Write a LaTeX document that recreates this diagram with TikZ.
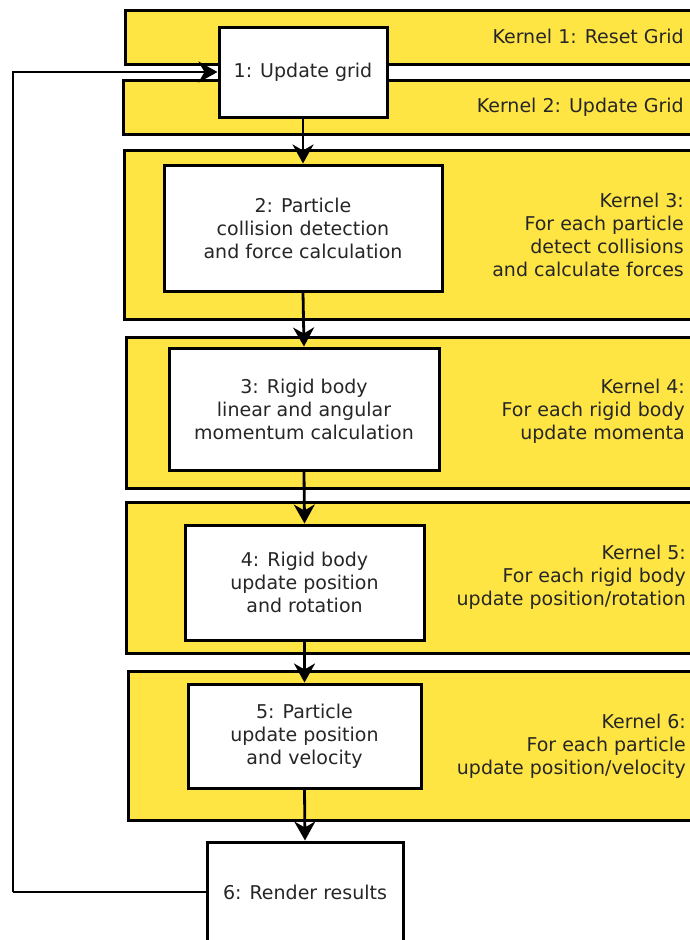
\documentclass[tikz,border=0pt]{standalone}
\usepackage{fontspec}
\setmainfont{DejaVu Sans}
\usetikzlibrary{arrows.meta}
\definecolor{bandyellow}{RGB}{255,229,68}
\definecolor{ink}{RGB}{38,38,38}
\tikzset{
  band/.style={draw=black, line width=3pt, fill=bandyellow},
  stage/.style={draw=black, line width=3pt, fill=white, text=ink,
    align=center, font=\fontsize{19}{23}\selectfont, inner sep=0pt},
  kernel/.style={anchor=east, align=right, text=ink,
    font=\fontsize{19}{23}\selectfont, inner sep=0pt},
  flow/.style={line width=2.8pt, -{Stealth[length=19pt,width=21pt,inset=6pt]}},
  loopline/.style={line width=2.8pt}
}
\begin{document}
\begin{tikzpicture}[x=1pt,y=-1pt]
\useasboundingbox (0,0) rectangle (690,940);
\clip (0,0) rectangle (690,940);
% kernel bands
\draw[band] (125,10) rectangle (705,64);
\draw[band] (123,80) rectangle (705,134);
\draw[band] (124,150) rectangle (705,319);
\draw[band] (126,337) rectangle (705,488);
\draw[band] (126,502) rectangle (705,653);
\draw[band] (128,671) rectangle (705,820);
% kernel labels
\node[kernel] (k1) at (684,36) {Kernel 1: Reset Grid};
\node[kernel] (k2) at (684,107) {Kernel 2: Update Grid};
\node[kernel] (k3) at (684,235) {Kernel 3:\\For each particle\\detect collisions\\and calculate forces};
\node[kernel] (k4) at (685,411) {Kernel 4:\\For each rigid body\\update momenta};
\node[kernel] (k5) at (686,577) {Kernel 5:\\For each rigid body\\update position/rotation};
\node[kernel] (k6) at (686,746) {Kernel 6:\\For each particle\\update position/velocity};
% pipeline stages
\node[stage, minimum width=168pt, minimum height=90pt] (s1) at (303,72) {1: Update grid};
\node[stage, minimum width=278pt, minimum height=126pt] (s2) at (303,228) {2: Particle\\collision detection\\and force calculation};
\node[stage, minimum width=270pt, minimum height=122pt] (s3) at (304,409) {3: Rigid body\\linear and angular\\momentum calculation};
\node[stage, minimum width=239pt, minimum height=115pt] (s4) at (304.5,582.5) {4: Rigid body\\update position\\and rotation};
\node[stage, minimum width=233pt, minimum height=104pt] (s5) at (304.5,736) {5: Particle\\update position\\and velocity};
\node[stage, minimum width=196pt, minimum height=100pt] (s6) at (305,892) {6: Render results};
% flow between stages
\draw[flow] (s1.south) -- (s2.north);
\draw[flow] (s2.south) -- (s3.north);
\draw[flow] (s3.south) -- (s4.north);
\draw[flow] (s4.south) -- (s5.north);
\draw[flow] (s5.south) -- (s6.north);
% loop back to the first stage
\coordinate (back) at (13,892);
\draw[loopline] (s6.west) -- (back);
\draw[flow] (back) |- (s1.west);
\end{tikzpicture}
\end{document}
